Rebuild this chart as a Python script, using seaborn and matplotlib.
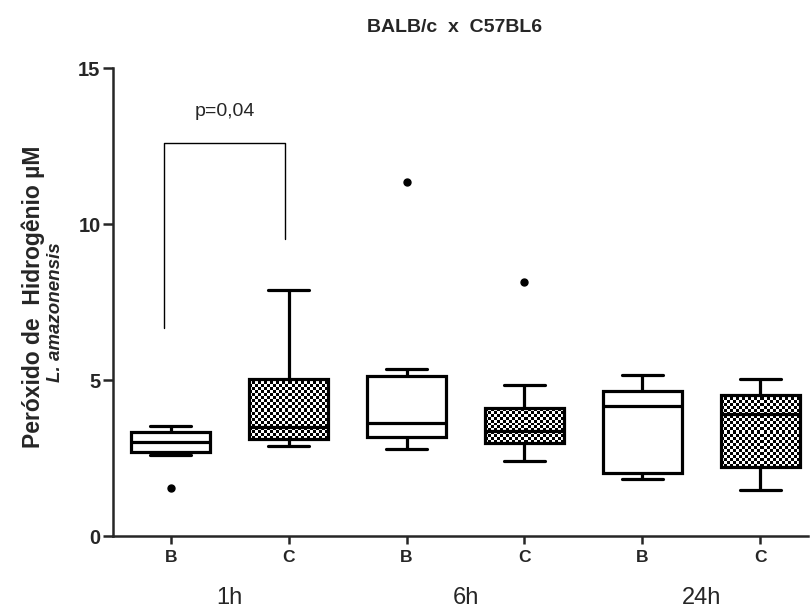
import numpy as np
import pandas as pd
import seaborn as sns
import matplotlib.pyplot as plt
import matplotlib.transforms as mtransforms

# Values (µM), one list per box
h1_B = [1.55, 2.60, 2.69, 2.85, 3.01, 3.20, 3.33, 3.45, 3.53]
h1_C = [2.88, 3.00, 3.10, 3.30, 3.49, 4.20, 5.03, 6.10, 7.88]
h6_B = [2.79, 3.00, 3.17, 3.40, 3.62, 4.50, 5.13, 5.35, 11.35]
h6_C = [2.40, 2.75, 2.98, 3.20, 3.37, 3.80, 4.10, 4.84, 8.14]
h24_B = [1.83, 1.95, 2.02, 3.10, 4.17, 4.40, 4.65, 4.90, 5.16]
h24_C = [1.48, 1.90, 2.21, 3.00, 3.91, 4.30, 4.52, 4.80, 5.03]

times = ["1h", "6h", "24h"]
strains = ["B", "C"]
groups = [h1_B, h1_C, h6_B, h6_C, h24_B, h24_C]

# significance bracket between 1h B and 1h C
bracket_y = [6.67, 12.6, 12.6, 9.53]
p_label = "p=0,04"

rows = []
order = []
k = 0
for t in times:
    for s in strains:
        key = f"{t} {s}"
        order.append(key)
        for v in groups[k]:
            rows.append({"grupo": key, "valor": v})
        k += 1
df = pd.DataFrame(rows)

sns.set_style("ticks")
plt.rcParams["font.family"] = ["Liberation Sans", "DejaVu Sans"]

fig = plt.figure(figsize=(8.11, 6.14), dpi=100)
ax = fig.add_axes([113 / 811, 1 - 536 / 614, (808 - 113) / 811, (536 - 68) / 614])

sns.boxplot(
    data=df, x="grupo", y="valor", order=order, ax=ax,
    color="white", linecolor="black", linewidth=2.3, width=0.67,
    whis=1.5, saturation=1,
    flierprops=dict(marker="o", markerfacecolor="black",
                    markeredgecolor="black", markersize=5),
    capwidths=0.35,
)

ax.set_xlim(-0.49, 5.405)
ax.set_ylim(0, 15)
fig.canvas.draw()

# checkered fill for the C boxes (Prism style pattern), clipped to the box
cell_px = 3.0
for patch in list(ax.patches):
    ext = patch.get_path().get_extents()
    xc = (ext.x0 + ext.x1) / 2
    if int(round(xc)) % 2 != 1:
        continue
    p0 = ax.transData.transform((ext.x0, ext.y0))
    p1 = ax.transData.transform((ext.x1, ext.y1))
    nx = max(1, int(round(abs(p1[0] - p0[0]) / cell_px)))
    ny = max(1, int(round(abs(p1[1] - p0[1]) / cell_px)))
    checker = (np.add.outer(np.arange(ny), np.arange(nx)) % 2).astype(float)
    im = ax.imshow(checker, extent=(ext.x0, ext.x1, ext.y0, ext.y1),
                   cmap="gray", vmin=0, vmax=1, interpolation="nearest",
                   aspect="auto", zorder=patch.get_zorder() + 0.01)
    im.set_clip_path(patch)
    patch.set_facecolor("none")
    patch.set_zorder(patch.get_zorder() + 0.02)

ax.set_xlim(-0.49, 5.405)
ax.set_ylim(0, 15)
ax.set_yticks([0, 5, 10, 15])
ax.set_yticklabels(["0", "5", "10", "15"], fontsize=14.5, fontweight="bold")
ax.set_xticks(range(len(order)))
ax.set_xticklabels([o.split()[1] for o in order], fontsize=12.5, fontweight="bold")
ax.set_xlabel("")
ax.set_ylabel("")
sns.despine(ax=ax)
for sp in ["left", "bottom"]:
    ax.spines[sp].set_linewidth(1.8)
ax.tick_params(axis="y", length=7, width=1.8, pad=2)
ax.tick_params(axis="x", length=6, width=1.8, pad=4)

# group labels under the ticks
trans = mtransforms.blended_transform_factory(ax.transData, ax.transAxes)
for i, t in enumerate(times):
    ax.text(2 * i + 0.5, -0.132, t, transform=trans, ha="center", va="center",
            fontsize=17)

# bracket and p value
xl, xr = -0.055, 0.966
ax.plot([xl, xl, xr, xr], bracket_y, color="black", linewidth=1)
ax.text((xl + xr) / 2, 13.6, p_label, ha="center", va="center", fontsize=14)

fig.text(455 / 811, 1 - 28 / 614, "BALB/c  x  C57BL6", ha="center", va="center",
         fontsize=14, fontweight="bold")
fig.text(33 / 811, 1 - 297 / 614, "Peróxido de  Hidrogênio µM", rotation=90,
         ha="center", va="center", fontsize=16.5, fontweight="bold")
fig.text(55 / 811, 1 - 312 / 614, "L. amazonensis", rotation=90,
         ha="center", va="center", fontsize=13.5, fontweight="bold", style="italic")

fig.savefig("out.png", dpi=100)
